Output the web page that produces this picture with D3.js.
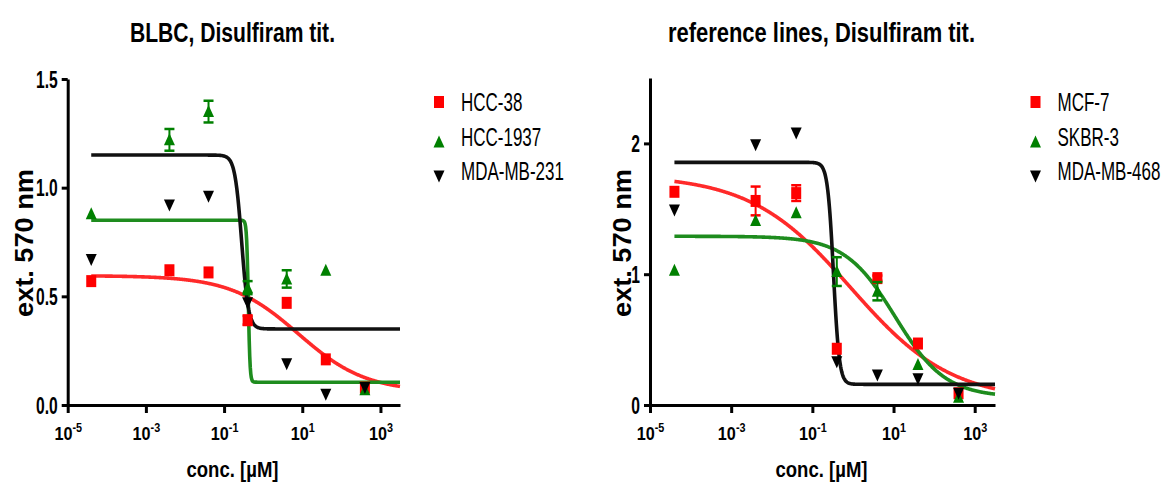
<!DOCTYPE html>
<html>
<head>
<meta charset="utf-8">
<script src="https://cdn.jsdelivr.net/npm/d3@7"></script>
<style>
  body { margin: 0; background: #fff; }
  svg { display: block; font-family: "Liberation Sans", Arial, sans-serif; }
</style>
</head>
<body>
<svg id="chart" width="1173" height="485"></svg>
<script>
// concentrations (uM) used in both titrations
var conc = [4e-5, 4e-3, 4e-2, 0.4, 4, 40, 400];

// BLBC panel
var blbcLines = ["HCC-38", "HCC-1937", "MDA-MB-231"];
var hcc38 = [0.57, 0.62, 0.61, 0.39, 0.47, 0.21, 0.08];
var hcc38Err = [0, 0, 0, 0.02, 0, 0, 0];
var hcc1937 = [0.88, 1.22, 1.35, 0.54, 0.58, 0.62, 0.07];
var hcc1937Err = [0, 0.05, 0.05, 0.03, 0.04, 0, 0];
var mda231 = [0.67, 0.92, 0.96, 0.47, 0.19, 0.05, 0.08];
var mda231Err = [0, 0, 0, 0, 0, 0, 0];
// sigmoid fit parameters (top, bottom, logEC50, hill) per line
var blbcTop = [0.595, 0.85, 1.15];
var blbcBottom = [0.06, 0.105, 0.35];
var blbcLogEC50 = [0.9, -0.38, -0.55];
var blbcHill = [0.5, 20, 5];

// reference panel
var refLines = ["MCF-7", "SKBR-3", "MDA-MB-468"];
var mcf7 = [1.63, 1.56, 1.62, 0.43, 0.97, 0.47, 0.09];
var mcf7Err = [0, 0.11, 0.06, 0, 0.02, 0, 0];
var skbr3 = [1.03, 1.41, 1.47, 1.02, 0.87, 0.31, 0.06];
var skbr3Err = [0, 0, 0, 0.11, 0.07, 0, 0];
var mda468 = [1.49, 1.99, 2.08, 0.33, 0.23, 0.20, 0.09];
var mda468Err = [0, 0, 0, 0, 0, 0, 0];
var refTop = [1.76, 1.29, 1.855];
var refBottom = [0.03, 0.06, 0.158];
var refLogEC50 = [-0.05, 1.04, -0.48];
var refHill = [0.35, 0.7, 6];

var xTicks = [1e-5, 1e-3, 1e-1, 1e1, 1e3];
var colors = ["#ff0000", "#008000", "#000000"];
var curveColors = ["#ff2a2a", "#1e8c1e", "#111111"];
var shapes = ["square", "up", "down"];

var svg = d3.select("#chart");

function squeeze(sel, w) {
  sel.attr("textLength", w).attr("lengthAdjust", "spacingAndGlyphs");
}
function squeezeBy(sel, f) {
  sel.each(function() {
    var L = this.getComputedTextLength();
    this.setAttribute("textLength", L * f);
    this.setAttribute("lengthAdjust", "spacingAndGlyphs");
  });
}

function marker(g, shape, cx, cy, color) {
  if (shape == "square") {
    g.append("rect").attr("x", cx - 5).attr("y", cy - 6)
      .attr("width", 10).attr("height", 12).attr("fill", color);
  } else if (shape == "up") {
    g.append("path").attr("d", "M" + cx + "," + (cy - 6.5) + "L" + (cx + 5.5) + "," + (cy + 5.5) + "L" + (cx - 5.5) + "," + (cy + 5.5) + "Z")
      .attr("fill", color);
  } else {
    g.append("path").attr("d", "M" + cx + "," + (cy + 6.5) + "L" + (cx + 5.5) + "," + (cy - 5.5) + "L" + (cx - 5.5) + "," + (cy - 5.5) + "Z")
      .attr("fill", color);
  }
}

function drawPanel(p) {
  var x = d3.scaleLog().domain([1e-5, Math.pow(10, 3.5)]).range([p.left, p.right]);
  var y = d3.scaleLinear().domain([0, p.ymax]).range([405, p.ytop]);
  var g = svg.append("g");

  // title
  g.append("text").attr("x", p.titleX).attr("y", 42)
    .attr("text-anchor", "middle").attr("font-size", 28).attr("font-weight", "bold")
    .text(p.title).call(squeeze, p.titleW);

  // fitted curves
  var lx0 = Math.log10(conc[0]), lx1 = 3.5;
  var line = d3.line().x(function(d) { return x(d[0]); }).y(function(d) { return y(d[1]); });
  p.series.forEach(function(s, i) {
    var pts = [];
    for (var k = 0; k <= 600; k++) {
      var lx = lx0 + (lx1 - lx0) * k / 600;
      var v = p.bottom[i] + (p.top[i] - p.bottom[i]) / (1 + Math.pow(10, (lx - p.ec50[i]) * p.hill[i]));
      pts.push([Math.pow(10, lx), v]);
    }
    g.append("path").attr("d", line(pts)).attr("fill", "none")
      .attr("stroke", curveColors[i]).attr("stroke-width", 3.6);
  });

  // data points with error bars
  p.series.forEach(function(s, i) {
    s.forEach(function(v, j) {
      var cx = x(conc[j]), cy = y(v), e = p.errs[i][j];
      if (e > 0) {
        g.append("line").attr("x1", cx).attr("x2", cx).attr("y1", y(v - e)).attr("y2", y(v + e))
          .attr("stroke", colors[i]).attr("stroke-width", 2);
        [v - e, v + e].forEach(function(c) {
          g.append("line").attr("x1", cx - 5).attr("x2", cx + 5).attr("y1", y(c)).attr("y2", y(c))
            .attr("stroke", colors[i]).attr("stroke-width", 2.5);
        });
      }
      marker(g, shapes[i], cx, cy, colors[i]);
    });
  });

  // axes
  var ya = g.append("g").attr("transform", "translate(" + p.left + ",0)")
    .call(d3.axisLeft(y).tickValues(p.yTicks).tickFormat(p.yFmt).tickSize(6).tickSizeOuter(0).tickPadding(4));
  var xa = g.append("g").attr("transform", "translate(0,405)")
    .call(d3.axisBottom(x).tickValues(xTicks).tickFormat("").tickSize(8).tickSizeOuter(0));
  [ya, xa].forEach(function(a) {
    a.select(".domain").attr("stroke-width", 3);
    a.selectAll(".tick line").attr("stroke-width", 3);
  });
  ya.selectAll(".tick text").attr("font-size", 23).attr("font-weight", "bold")
    .attr("font-family", "Liberation Sans, Arial, sans-serif").attr("fill", "#000").attr("dy", "0.36em")
    .call(squeezeBy, 0.68);
  xa.selectAll(".tick").each(function(d) {
    var t = d3.select(this).append("text").attr("y", 35).attr("text-anchor", "middle")
      .attr("font-size", 18).attr("font-weight", "bold").attr("fill", "#000")
      .attr("font-family", "Liberation Sans, Arial, sans-serif");
    t.append("tspan").text("10");
    t.append("tspan").attr("dy", -8).attr("font-size", 12).text(Math.round(Math.log10(d)));
  });
  xa.selectAll(".tick text").call(squeezeBy, 0.9);

  // axis titles
  g.append("text").attr("x", p.titleX).attr("y", 477).attr("text-anchor", "middle")
    .attr("font-size", 22).attr("font-weight", "bold").text("conc. [µM]").call(squeeze, 92);
  g.append("text").attr("transform", "translate(" + p.yLabelX + ",243) rotate(-90)")
    .attr("text-anchor", "middle").attr("font-size", 26).attr("font-weight", "bold")
    .text("ext. 570 nm").call(squeeze, 148);

  // legend (text narrowed with a horizontal scale)
  p.names.forEach(function(n, i) {
    var ly = [102, 142, 176][i];
    marker(g, shapes[i], p.legX, ly, colors[i]);
    g.append("text")
      .attr("transform", "translate(" + (p.legX + 22) + "," + [111, 146, 180][i] + ") scale(0.68,1)")
      .attr("font-size", 25).attr("fill", "#000").text(n);
  });
}

drawPanel({
  title: "BLBC, Disulfiram tit.", titleX: 232.5, titleW: 205,
  left: 67.7, right: 400, ymax: 1.5, ytop: 79,
  yTicks: [0, 0.5, 1.0, 1.5], yFmt: d3.format(".1f"), yLabelX: 33,
  series: [hcc38, hcc1937, mda231], errs: [hcc38Err, hcc1937Err, mda231Err],
  top: blbcTop, bottom: blbcBottom, ec50: blbcLogEC50, hill: blbcHill,
  names: blbcLines, legX: 439
});

drawPanel({
  title: "reference lines, Disulfiram tit.", titleX: 821.5, titleW: 307,
  left: 650, right: 995, ymax: 2.5, ytop: 78,
  yTicks: [0, 1, 2], yFmt: d3.format("d"), yLabelX: 631,
  series: [mcf7, skbr3, mda468], errs: [mcf7Err, skbr3Err, mda468Err],
  top: refTop, bottom: refBottom, ec50: refLogEC50, hill: refHill,
  names: refLines, legX: 1035.5
});
</script>
</body>
</html>
